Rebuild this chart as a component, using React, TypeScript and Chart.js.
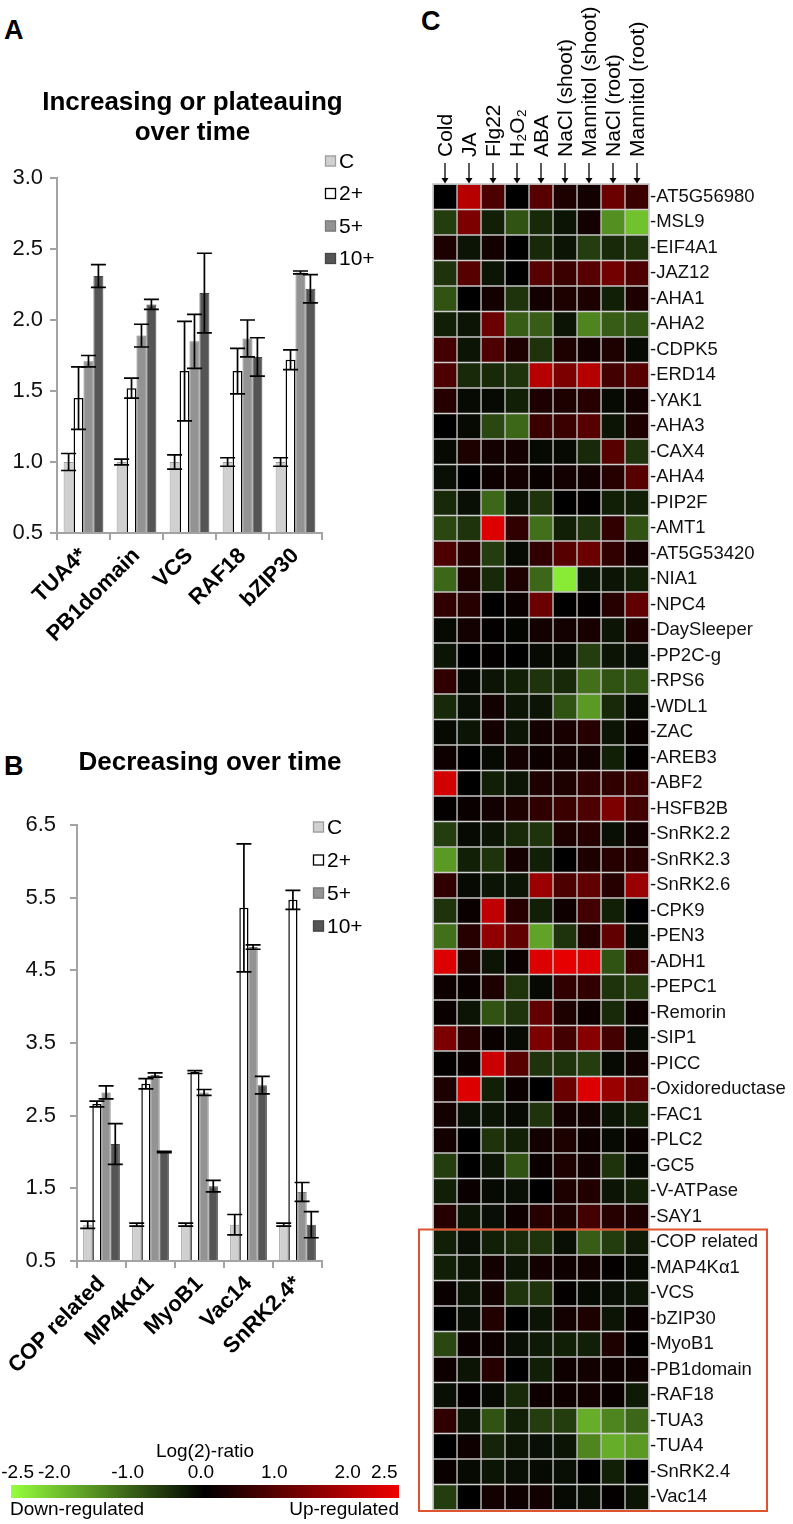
import React, { useEffect, useRef } from 'react';
import { Chart, registerables } from 'chart.js';

Chart.register(...registerables);

const FONT = "'Liberation Sans', Arial, Helvetica, sans-serif";
Chart.defaults.font.family = FONT;
Chart.defaults.color = '#000';

// ---------------- Panel A data ----------------
const catsA = ['TUA4*', 'PB1domain', 'VCS', 'RAF18', 'bZIP30'];
const seriesNames = ['C', '2+', '5+', '10+'];
const aC = [1.0, 1.0, 1.0, 1.0, 1.0];
const aCErr = [0.06, 0.02, 0.05, 0.03, 0.03];
const a2 = [1.45, 1.52, 1.64, 1.64, 1.72];
const a2Err = [0.22, 0.07, 0.35, 0.16, 0.07];
const a5 = [1.71, 1.89, 1.85, 1.87, 2.335];
const a5Err = [0.04, 0.08, 0.19, 0.13, 0.01];
const a10 = [2.31, 2.11, 2.19, 1.74, 2.22];
const a10Err = [0.08, 0.035, 0.28, 0.135, 0.1];
const ticksA = [0.5, 1.0, 1.5, 2.0, 2.5, 3.0];

// ---------------- Panel B data ----------------
const catsB = ['COP related', 'MP4Kα1', 'MyoB1', 'Vac14', 'SnRK2.4*'];
const bC = [1.0, 1.0, 1.0, 1.0, 1.0];
const bCErr = [0.05, 0.02, 0.02, 0.14, 0.02];
const b2 = [2.66, 2.94, 3.1, 5.36, 5.47];
const b2Err = [0.04, 0.07, 0.02, 0.88, 0.13];
const b5 = [2.82, 3.06, 2.82, 4.82, 1.45];
const b5Err = [0.09, 0.03, 0.04, 0.03, 0.13];
const b10 = [2.11, 2.0, 1.53, 2.92, 1.0];
const b10Err = [0.28, 0.01, 0.08, 0.12, 0.18];
const ticksB = [0.5, 1.5, 2.5, 3.5, 4.5, 5.5, 6.5];

// ---------------- Panel C data ----------------
const conditions = ['Cold', 'JA', 'Flg22', 'H₂O₂', 'ABA', 'NaCl (shoot)', 'Mannitol (shoot)', 'NaCl (root)', 'Mannitol (root)'];
const genes = [
  'AT5G56980', 'MSL9', 'EIF4A1', 'JAZ12', 'AHA1', 'AHA2', 'CDPK5', 'ERD14', 'YAK1', 'AHA3',
  'CAX4', 'AHA4', 'PIP2F', 'AMT1', 'AT5G53420', 'NIA1', 'NPC4', 'DaySleeper', 'PP2C-g', 'RPS6',
  'WDL1', 'ZAC', 'AREB3', 'ABF2', 'HSFB2B', 'SnRK2.2', 'SnRK2.3', 'SnRK2.6', 'CPK9', 'PEN3',
  'ADH1', 'PEPC1', 'Remorin', 'SIP1', 'PICC', 'Oxidoreductase', 'FAC1', 'PLC2', 'GC5', 'V-ATPase',
  'SAY1', 'COP related', 'MAP4Kα1', 'VCS', 'bZIP30', 'MyoB1', 'PB1domain', 'RAF18', 'TUA3', 'TUA4',
  'SnRK2.4', 'Vac14',
];
const hmCold = [0, -0.6, 0.3, -0.5, -0.8, -0.3, 0.7, 0.8, 0.4, 0, -0.1, -0.15, -0.4, -0.7, 0.8, -1.0, 0.5, -0.1, -0.2, 0.5, -0.4, -0.1, 0.15, 2.2, 0.05, -0.6, -1.5, 0.5, -0.5, -1.1, 2.3, 0.15, 0.1, 1.3, 0.05, 0.3, 0.2, 0.2, -0.6, -0.3, 0.4, -0.3, -0.3, 0.1, 0, -0.7, 0.15, -0.15, 0.5, 0, 0.1, -0.6];
const hmJA = [1.9, 1.3, -0.2, 0.9, 0, -0.2, -0.2, -0.4, -0.1, -0.1, 0.3, 0, -0.15, -0.5, 0.4, 0.3, 0.4, 0.2, 0, -0.1, -0.15, -0.2, 0, 0, 0.1, -0.1, -0.3, -0.1, 0.1, 0.4, 0.3, 0.1, -0.2, 0.4, 0.1, 2.3, -0.15, 0, 0, 0.1, -0.2, -0.15, -0.2, -0.2, -0.15, 0.1, -0.2, 0.05, -0.2, 0.15, -0.1, 0];
const hmFlg22 = [0.8, -0.3, 0.2, -0.2, 0.2, 1.1, 0.8, -0.4, -0.1, -0.7, 0.2, 0.15, -1.0, 2.3, -0.6, -0.4, 0, 0.05, 0.05, -0.2, 0.2, 0.2, -0.1, -0.3, 0.2, -0.2, -0.5, -0.2, 2.0, 1.5, -0.2, 0.3, -0.8, 0.1, 2.1, -0.3, -0.2, -0.5, -0.2, -0.1, -0.15, -0.3, 0.2, 0.2, 0.35, 0.15, 0.4, -0.1, -0.8, -0.35, -0.2, 0.2];
const hmH2O2 = [0, -0.8, 0, 0, -0.5, -0.9, 0.3, -0.5, -0.3, -1.0, 0.2, 0.2, -0.2, 0.5, -0.1, 0.3, 0.1, -0.05, 0, -0.3, -0.2, -0.2, 0.2, -0.2, 0.3, -0.4, 0.2, -0.2, 0.4, 1.0, 0.1, -0.5, -0.5, -0.1, 0.9, 0.1, -0.1, -0.3, -0.8, -0.15, 0.15, -0.4, -0.2, -0.5, 0, -0.15, 0, -0.4, -0.3, -0.2, -0.15, 0.15];
const hmABA = [0.9, -0.4, -0.4, 0.9, 0.2, -0.9, -0.5, 1.9, 0.3, 0.6, -0.1, 0.1, -0.5, -1.1, 0.5, -1.0, 1.1, 0.2, -0.1, -0.5, -0.2, 0.2, 0.15, 0.3, 0.5, -0.5, -0.3, 1.6, -0.3, -1.6, 2.3, -0.1, 1.0, 1.3, -0.5, 0, -0.5, 0.2, 0.1, 0, 0.4, -0.5, 0.2, -0.5, -0.2, -0.25, -0.3, 0.15, -0.6, -0.15, -0.1, 0.2];
const hmNaClShoot = [0.3, -0.2, -0.2, 0.6, 0.3, -0.2, 0.3, 1.3, 0.3, 0.6, -0.1, 0.2, 0, -0.3, 0.9, -2.3, 0, 0.2, -0.1, -0.4, -0.8, 0.25, 0.2, 0.3, 0.6, 0.3, 0, 0.8, 0.15, -0.5, 2.4, 0.5, 0.3, 0.7, -0.5, 1.1, 0.2, 0.3, 0.3, 0.3, 0.3, -0.15, 0.15, 0.05, 0.2, -0.3, 0.15, 0.15, -0.6, -0.2, -0.15, -0.1];
const hmMannitolShoot = [0.2, 0.2, -0.6, 0.9, 0.3, -1.3, 0.2, 1.9, 0.4, 0.9, -0.4, 0.2, 0.05, -0.5, 1.1, -0.2, 0.05, 0.25, -0.6, -1.1, -1.5, 0.4, 0.2, 0.5, 0.8, 0.4, 0.3, 1.0, 0.7, 0.4, 2.3, 0.5, 0.15, 1.4, -0.6, 2.3, 0.2, 0.15, 0.2, 0.35, 0.7, -0.9, 0.2, -0.1, 0.3, -0.3, 0.2, 0.2, -1.7, -1.3, 0, -0.15];
const hmNaClRoot = [1.1, -1.4, -0.4, 1.2, -0.3, -0.9, 0.3, 0.7, -0.1, -0.2, 0.9, 0.4, -0.3, 0.5, 0.5, -0.2, 0.4, -0.2, -0.2, -0.8, -0.4, -0.2, -0.3, 0.5, 1.3, -0.15, 0.4, 0.4, -0.3, 1.0, -0.8, -0.5, -0.4, 0.7, -0.1, 1.6, -0.2, -0.1, -0.5, -0.2, 0.4, -0.6, 0.05, -0.15, -0.2, 0.3, 0.15, 0.1, -1.3, -1.7, -0.3, 0.05];
const hmMannitolRoot = [0.6, -1.9, -0.5, 0.8, 0.3, -0.8, -0.1, 0.9, 0.2, 0.3, -0.5, 0.9, -0.3, -0.8, 0.2, -0.3, 1.0, 0.3, -0.15, -0.8, -0.1, 0.1, 0.05, 0.6, 0.7, 0.2, 0.4, 1.6, 0, -0.1, 0.6, -0.6, 0.15, -0.1, 0.2, 1.0, -0.3, 0.1, -0.1, -0.3, 0.3, -0.25, -0.1, -0.2, 0.1, 0.05, 0.15, -0.25, -1.0, -1.5, 0, -0.2];
const heatColumns = [hmCold, hmJA, hmFlg22, hmH2O2, hmABA, hmNaClShoot, hmMannitolShoot, hmNaClRoot, hmMannitolRoot];
const boxedFrom = 'COP related';

// colour bar
const cbMin = -2.5;
const cbMax = 2.5;
const cbTicks = [-2.5, -2.0, -1.0, 0.0, 1.0, 2.0, 2.5];
const cbStops = [-2.5, -2.0, -1.5, -1.0, -0.5, 0, 0.5, 1.0, 1.5, 2.0, 2.5];
// label scale of the colour bar (its printed tick labels sit slightly inside the bar ends)
const cbLabelMin = -2.59;
const cbLabelMax = 2.7;

// ---------------- styles ----------------
const seriesFill = ['#d0d0d0', '#ffffff', '#939393', '#555555'];
const seriesBorder = ['#9e9e9e', '#000000', '#7a7a7a', '#454545'];
const seriesBorderWidth = [1, 1.5, 1, 1];
const AXIS_GREY = '#a3a3a3';

function heatColor(v: number): string {
  const t = Math.max(-1, Math.min(1, v / 2.5));
  if (t >= 0) return `rgb(${Math.round(240 * t)},0,0)`;
  const a = -t;
  return `rgb(${Math.round(150 * a)},${Math.round(255 * a)},${Math.round(60 * a)})`;
}

const errorBarPlugin = {
  id: 'errorBars',
  afterDatasetsDraw(chart: any) {
    const ctx = chart.ctx;
    const y = chart.scales.y;
    ctx.save();
    ctx.strokeStyle = '#000';
    ctx.lineWidth = 1.7;
    chart.data.datasets.forEach((ds: any, i: number) => {
      const errs = ds.errors;
      if (!errs) return;
      const meta = chart.getDatasetMeta(i);
      meta.data.forEach((el: any, j: number) => {
        const v = ds.data[j];
        const e = errs[j];
        const top = y.getPixelForValue(v + e);
        const bot = y.getPixelForValue(v - e);
        const x = el.x;
        const cap = 7.5;
        ctx.beginPath();
        ctx.moveTo(x, top);
        ctx.lineTo(x, bot);
        ctx.moveTo(x - cap, top);
        ctx.lineTo(x + cap, top);
        ctx.moveTo(x - cap, bot);
        ctx.lineTo(x + cap, bot);
        ctx.stroke();
      });
    });
    ctx.restore();
  },
};

function makeLegendPlugin(dx: number, dy: number, gap: number) {
  return {
    id: 'boxLegend',
    afterDraw(chart: any) {
      const { ctx, chartArea } = chart;
      const x0 = chartArea.right + dx;
      let yc = chartArea.top + dy;
      ctx.save();
      ctx.font = `21px ${FONT}`;
      ctx.textBaseline = 'middle';
      ctx.textAlign = 'left';
      chart.data.datasets.forEach((ds: any) => {
        ctx.fillStyle = ds.backgroundColor;
        ctx.fillRect(x0, yc - 5.5, 11, 11);
        ctx.strokeStyle = ds.borderColor;
        ctx.lineWidth = 1.3;
        ctx.strokeRect(x0 + 0.5, yc - 5, 10, 10);
        ctx.fillStyle = '#000';
        ctx.fillText(ds.label, x0 + 14, yc + 1);
        yc += gap;
      });
      ctx.restore();
    },
  };
}

function makeTitlePlugin(lines: string[], ys: number[], dx: number) {
  return {
    id: 'panelTitle',
    afterDraw(chart: any) {
      const { ctx, chartArea } = chart;
      const cx = (chartArea.left + chartArea.right) / 2 + dx;
      ctx.save();
      ctx.font = `bold 26px ${FONT}`;
      ctx.fillStyle = '#000';
      ctx.textAlign = 'center';
      ctx.textBaseline = 'middle';
      lines.forEach((t, k) => ctx.fillText(t, cx, ys[k]));
      ctx.restore();
    },
  };
}

type BarProps = {
  left: number; top: number; width: number; height: number;
  labels: string[]; values: number[][]; errors: number[][]; ticks: number[];
  padTop: number; padRight: number; yWidth: number; xHeight: number; tickPad: number;
  titleLines: string[]; titleYs: number[]; titleDx: number;
  legendDx: number; legendDy: number; legendGap: number;
};

function BarPanel(p: BarProps) {
  const ref = useRef<HTMLCanvasElement>(null);
  useEffect(() => {
    const canvas = ref.current;
    if (!canvas) return;
    const chart = new Chart(canvas, {
      type: 'bar',
      data: {
        labels: p.labels,
        datasets: seriesNames.map((name, i) => ({
          label: name,
          data: p.values[i],
          errors: p.errors[i],
          backgroundColor: seriesFill[i],
          borderColor: seriesBorder[i],
          borderWidth: seriesBorderWidth[i],
          base: p.ticks[0],
          categoryPercentage: 0.75,
          barPercentage: 1,
        })) as any,
      },
      options: {
        responsive: false,
        maintainAspectRatio: false,
        animation: false,
        layout: { padding: { top: p.padTop, right: p.padRight, left: 0, bottom: 0 } },
        plugins: { legend: { display: false }, tooltip: { enabled: false }, title: { display: false } },
        scales: {
          x: {
            grid: { display: true, drawOnChartArea: false, drawTicks: true, tickLength: 7, color: AXIS_GREY, lineWidth: 2, offset: true },
            border: { display: true, color: AXIS_GREY, width: 2 },
            ticks: { autoSkip: false, minRotation: 45, maxRotation: 45, padding: 3, color: '#000', font: { size: 22, weight: 'bold' } },
            afterFit: (s: any) => { s.height = p.xHeight; },
          },
          y: {
            min: p.ticks[0],
            max: p.ticks[p.ticks.length - 1],
            afterBuildTicks: (s: any) => { s.ticks = p.ticks.map((v) => ({ value: v })); },
            grid: { display: true, drawOnChartArea: false, drawTicks: true, tickLength: 7, color: AXIS_GREY, lineWidth: 2 },
            border: { display: true, color: AXIS_GREY, width: 2 },
            ticks: { padding: p.tickPad, color: '#111', font: { size: 22 }, callback: (v: any) => Number(v).toFixed(1) },
            afterFit: (s: any) => { s.width = p.yWidth; },
          },
        } as any,
      },
      plugins: [errorBarPlugin, makeLegendPlugin(p.legendDx, p.legendDy, p.legendGap), makeTitlePlugin(p.titleLines, p.titleYs, p.titleDx)],
    });
    return () => chart.destroy();
  }, []);
  return (
    <canvas
      ref={ref}
      width={p.width}
      height={p.height}
      style={{ position: 'absolute', left: p.left, top: p.top, width: p.width, height: p.height }}
    />
  );
}

const heatDecorPlugin = {
  id: 'heatDecor',
  afterDraw(chart: any) {
    const { ctx, chartArea: ca, scales } = chart;
    const xs = scales.x;
    const ys = scales.y;
    ctx.save();
    ctx.strokeStyle = '#c4c4c4';
    ctx.lineWidth = 1.5;
    ctx.strokeRect(ca.left, ca.top, ca.right - ca.left, ca.bottom - ca.top);

    conditions.forEach((c, i) => {
      const x = xs.getPixelForValue(i + 0.5);
      ctx.strokeStyle = '#000';
      ctx.lineWidth = 1.3;
      ctx.beginPath();
      ctx.moveTo(x, ca.top - 21);
      ctx.lineTo(x, ca.top - 4);
      ctx.stroke();
      ctx.fillStyle = '#000';
      ctx.beginPath();
      ctx.moveTo(x - 3.5, ca.top - 6);
      ctx.lineTo(x + 3.5, ca.top - 6);
      ctx.lineTo(x, ca.top - 0.5);
      ctx.closePath();
      ctx.fill();

      ctx.save();
      ctx.translate(x, ca.top - 27);
      ctx.rotate(-Math.PI / 2);
      ctx.font = `21px ${FONT}`;
      ctx.textAlign = 'left';
      ctx.textBaseline = 'middle';
      ctx.fillStyle = '#000';
      ctx.fillText(c, 0, 1);
      ctx.restore();
    });

    const idx = genes.indexOf(boxedFrom);
    const rowH = ys.getPixelForValue(1) - ys.getPixelForValue(0);
    const boxTop = ys.getPixelForValue(idx) - rowH / 2;
    ctx.strokeStyle = '#e0532f';
    ctx.lineWidth = 2;
    ctx.strokeRect(ca.left - 14, boxTop, ca.right + 118 - (ca.left - 14), ca.bottom + 1 - boxTop);
    ctx.restore();
  },
};

function Heatmap() {
  const ref = useRef<HTMLCanvasElement>(null);
  const W = 383;
  const H = 1524;
  useEffect(() => {
    const canvas = ref.current;
    if (!canvas) return;
    const chart = new Chart(canvas, {
      type: 'bar',
      data: {
        labels: genes,
        datasets: conditions.map((c, i) => ({
          label: c,
          data: genes.map(() => 1),
          backgroundColor: heatColumns[i].map(heatColor),
          borderColor: '#c4c4c4',
          borderWidth: 1,
          borderSkipped: false,
          categoryPercentage: 1,
          barPercentage: 1,
        })) as any,
      },
      options: {
        indexAxis: 'y',
        responsive: false,
        maintainAspectRatio: false,
        animation: false,
        layout: { padding: { top: 184, left: 23, right: 0, bottom: 14 } },
        plugins: { legend: { display: false }, tooltip: { enabled: false } },
        scales: {
          x: { type: 'linear', stacked: true, min: 0, max: 9, display: false },
          y: {
            type: 'category',
            stacked: true,
            position: 'right',
            grid: { display: false, drawTicks: false },
            border: { display: false },
            ticks: { autoSkip: false, padding: 1, color: '#111', font: { size: 18.5 }, callback: (_v: any, i: number) => '-' + genes[i] },
            afterFit: (s: any) => { s.width = 144; },
          },
        } as any,
      },
      plugins: [heatDecorPlugin],
    });
    return () => chart.destroy();
  }, []);
  return <canvas ref={ref} width={W} height={H} style={{ position: 'absolute', left: 410, top: 0, width: W, height: H }} />;
}

const colorbarTextPlugin = {
  id: 'cbText',
  afterDraw(chart: any) {
    const { ctx, chartArea: ca } = chart;
    ctx.save();
    ctx.font = `19px ${FONT}`;
    ctx.fillStyle = '#000';
    ctx.textBaseline = 'middle';
    ctx.textAlign = 'left';
    ctx.fillText('Down-regulated', ca.left - 1, ca.bottom + 12);
    ctx.textAlign = 'right';
    ctx.fillText('Up-regulated', ca.right, ca.bottom + 12);
    ctx.restore();
  },
};

function ColorBar() {
  const ref = useRef<HTMLCanvasElement>(null);
  const W = 410;
  const H = 94;
  useEffect(() => {
    const canvas = ref.current;
    if (!canvas) return;
    const chart = new Chart(canvas, {
      type: 'bar',
      data: {
        labels: ['Log(2)-ratio'],
        datasets: [
          {
            data: [[cbMin, cbMax]],
            backgroundColor: (c: any) => {
              const ch = c.chart;
              if (!ch.chartArea) return '#000';
              const xs = ch.scales.x;
              const g = ch.ctx.createLinearGradient(xs.getPixelForValue(cbMin), 0, xs.getPixelForValue(cbMax), 0);
              cbStops.forEach((v) => g.addColorStop((v - cbMin) / (cbMax - cbMin), heatColor(v)));
              return g;
            },
            borderWidth: 0,
            categoryPercentage: 1,
            barPercentage: 1,
          },
        ] as any,
      },
      options: {
        indexAxis: 'y',
        responsive: false,
        maintainAspectRatio: false,
        animation: false,
        layout: { padding: { top: 0, left: 11, right: 11, bottom: 26 } },
        plugins: { legend: { display: false }, tooltip: { enabled: false } },
        scales: {
          x: { type: 'linear', min: cbMin, max: cbMax, offset: false, display: false },
          x2: {
            type: 'linear',
            axis: 'x',
            position: 'top',
            min: cbLabelMin,
            max: cbLabelMax,
            offset: false,
            afterBuildTicks: (s: any) => { s.ticks = cbTicks.map((v) => ({ value: v })); },
            grid: { display: false, drawTicks: false },
            border: { display: false },
            ticks: { padding: 1, color: '#000', font: { size: 19 }, callback: (v: any) => Number(v).toFixed(1) },
            title: { display: true, text: 'Log(2)-ratio', color: '#000', font: { size: 19 }, padding: { top: 10, bottom: 0 } },
            afterFit: (s: any) => { s.height = 55; },
          },
          y: { type: 'category', display: false },
        } as any,
      },
      plugins: [colorbarTextPlugin],
    });
    return () => chart.destroy();
  }, []);
  return <canvas ref={ref} width={W} height={H} style={{ position: 'absolute', left: 0, top: 1430, width: W, height: H }} />;
}

const letterStyle = (left: number, top: number): React.CSSProperties => ({
  position: 'absolute',
  left,
  top,
  fontFamily: FONT,
  fontWeight: 'bold',
  fontSize: 27,
  lineHeight: '27px',
  color: '#000',
});

export default function App() {
  return (
    <div style={{ position: 'absolute', left: 0, top: 0, width: 793, height: 1524, background: '#fff', overflow: 'hidden' }}>
      <div style={letterStyle(4, 17)}>A</div>
      <div style={letterStyle(4, 753)}>B</div>
      <div style={letterStyle(421, 8)}>C</div>
      <BarPanel
        left={0} top={60} width={400} height={600}
        labels={catsA}
        values={[aC, a2, a5, a10]}
        errors={[aCErr, a2Err, a5Err, a10Err]}
        ticks={ticksA}
        padTop={118} padRight={78} yWidth={57} xHeight={127} tickPad={7}
        titleLines={['Increasing or plateauing', 'over time']} titleYs={[43, 73]} titleDx={3}
        legendDx={3} legendDy={-17} legendGap={32.5}
      />
      <BarPanel
        left={0} top={700} width={400} height={720}
        labels={catsB}
        values={[bC, b2, b5, b10]}
        errors={[bCErr, b2Err, b5Err, b10Err]}
        ticks={ticksB}
        padTop={125} padRight={78} yWidth={77} xHeight={159} tickPad={14}
        titleLines={['Decreasing over time']} titleYs={[63]} titleDx={10.5}
        legendDx={-9} legendDy={2} legendGap={33}
      />
      <Heatmap />
      <ColorBar />
    </div>
  );
}
